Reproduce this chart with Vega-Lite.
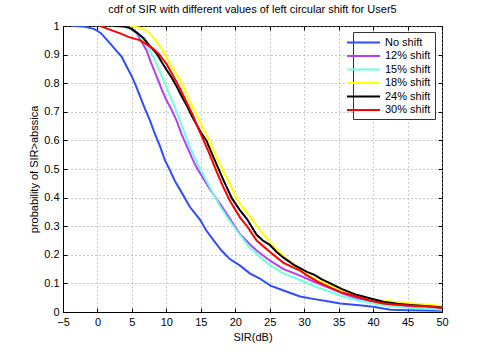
{
  "$schema": "https://vega.github.io/schema/vega-lite/v6.json",
  "width": 379,
  "height": 286,
  "autosize": {"type": "none"},
  "padding": {"left": 63, "top": 26, "right": 45, "bottom": 40},
  "title": {"text": "cdf of SIR with different values of left circular shift for User5", "fontSize": 11, "fontWeight": "normal", "font": "Liberation Sans", "color": "#000", "offset": 5},
  "config": {
    "font": "Liberation Sans",
    "view": {"stroke": "#000", "strokeWidth": 1},
    "axis": {
      "labelFont": "Liberation Sans", "labelFontSize": 11, "labelColor": "#000",
      "titleFont": "Liberation Sans", "titleFontSize": 11, "titleFontWeight": "normal", "titleColor": "#000",
      "domainColor": "#000", "tickColor": "#000", "tickSize": -4,
      "gridColor": "#999", "gridDash": [1, 3], "gridOpacity": 1, "gridWidth": 1
    }
  },
  "data": {"values": [
    {"s": "No shift", "x": -3.5, "p": 1},
    {"s": "No shift", "x": -2, "p": 0.998},
    {"s": "No shift", "x": -0.5, "p": 0.99},
    {"s": "No shift", "x": 0.5, "p": 0.975},
    {"s": "No shift", "x": 1.8, "p": 0.94},
    {"s": "No shift", "x": 2.7, "p": 0.915},
    {"s": "No shift", "x": 3.5, "p": 0.893},
    {"s": "No shift", "x": 4.2, "p": 0.86},
    {"s": "No shift", "x": 5.0, "p": 0.823},
    {"s": "No shift", "x": 5.6, "p": 0.79},
    {"s": "No shift", "x": 6.2, "p": 0.753},
    {"s": "No shift", "x": 6.9, "p": 0.71},
    {"s": "No shift", "x": 7.6, "p": 0.671},
    {"s": "No shift", "x": 8.3, "p": 0.625},
    {"s": "No shift", "x": 9.1, "p": 0.578},
    {"s": "No shift", "x": 9.8, "p": 0.53},
    {"s": "No shift", "x": 10.5, "p": 0.497},
    {"s": "No shift", "x": 11.2, "p": 0.46},
    {"s": "No shift", "x": 12.0, "p": 0.427},
    {"s": "No shift", "x": 13.4, "p": 0.368},
    {"s": "No shift", "x": 14.9, "p": 0.322},
    {"s": "No shift", "x": 15.8, "p": 0.285},
    {"s": "No shift", "x": 16.8, "p": 0.252},
    {"s": "No shift", "x": 18.0, "p": 0.215},
    {"s": "No shift", "x": 19.2, "p": 0.185},
    {"s": "No shift", "x": 20.7, "p": 0.162},
    {"s": "No shift", "x": 22.1, "p": 0.135},
    {"s": "No shift", "x": 23.5, "p": 0.118},
    {"s": "No shift", "x": 25.1, "p": 0.092},
    {"s": "No shift", "x": 27.0, "p": 0.075},
    {"s": "No shift", "x": 29.4, "p": 0.054},
    {"s": "No shift", "x": 31.5, "p": 0.045},
    {"s": "No shift", "x": 33.8, "p": 0.036},
    {"s": "No shift", "x": 35.2, "p": 0.03},
    {"s": "No shift", "x": 38.0, "p": 0.024},
    {"s": "No shift", "x": 40.0, "p": 0.018},
    {"s": "No shift", "x": 42.5, "p": 0.008},
    {"s": "No shift", "x": 45.0, "p": 0.006},
    {"s": "No shift", "x": 50.0, "p": 0.004},

    {"s": "12% shift", "x": 3.5, "p": 1},
    {"s": "12% shift", "x": 4.5, "p": 0.995},
    {"s": "12% shift", "x": 5.7, "p": 0.974},
    {"s": "12% shift", "x": 6.4, "p": 0.945},
    {"s": "12% shift", "x": 7.1, "p": 0.916},
    {"s": "12% shift", "x": 7.8, "p": 0.87},
    {"s": "12% shift", "x": 8.6, "p": 0.823},
    {"s": "12% shift", "x": 9.3, "p": 0.78},
    {"s": "12% shift", "x": 10.0, "p": 0.741},
    {"s": "12% shift", "x": 10.8, "p": 0.705},
    {"s": "12% shift", "x": 11.5, "p": 0.668},
    {"s": "12% shift", "x": 12.2, "p": 0.622},
    {"s": "12% shift", "x": 13.0, "p": 0.578},
    {"s": "12% shift", "x": 13.7, "p": 0.54},
    {"s": "12% shift", "x": 14.4, "p": 0.505},
    {"s": "12% shift", "x": 15.4, "p": 0.465},
    {"s": "12% shift", "x": 16.3, "p": 0.43},
    {"s": "12% shift", "x": 17.3, "p": 0.395},
    {"s": "12% shift", "x": 18.3, "p": 0.36},
    {"s": "12% shift", "x": 19.5, "p": 0.315},
    {"s": "12% shift", "x": 20.7, "p": 0.272},
    {"s": "12% shift", "x": 22.1, "p": 0.237},
    {"s": "12% shift", "x": 23.1, "p": 0.215},
    {"s": "12% shift", "x": 25.0, "p": 0.18},
    {"s": "12% shift", "x": 27.0, "p": 0.15},
    {"s": "12% shift", "x": 29.4, "p": 0.127},
    {"s": "12% shift", "x": 31.5, "p": 0.105},
    {"s": "12% shift", "x": 33.8, "p": 0.083},
    {"s": "12% shift", "x": 35.5, "p": 0.065},
    {"s": "12% shift", "x": 37.6, "p": 0.048},
    {"s": "12% shift", "x": 40.0, "p": 0.037},
    {"s": "12% shift", "x": 41.5, "p": 0.03},
    {"s": "12% shift", "x": 44.0, "p": 0.02},
    {"s": "12% shift", "x": 47.0, "p": 0.013},
    {"s": "12% shift", "x": 50.0, "p": 0.009},

    {"s": "15% shift", "x": 3.5, "p": 1},
    {"s": "15% shift", "x": 5.0, "p": 0.99},
    {"s": "15% shift", "x": 6.2, "p": 0.963},
    {"s": "15% shift", "x": 7.2, "p": 0.93},
    {"s": "15% shift", "x": 8.1, "p": 0.893},
    {"s": "15% shift", "x": 8.9, "p": 0.85},
    {"s": "15% shift", "x": 9.6, "p": 0.811},
    {"s": "15% shift", "x": 10.3, "p": 0.77},
    {"s": "15% shift", "x": 11.0, "p": 0.73},
    {"s": "15% shift", "x": 11.8, "p": 0.68},
    {"s": "15% shift", "x": 12.5, "p": 0.636},
    {"s": "15% shift", "x": 13.2, "p": 0.59},
    {"s": "15% shift", "x": 13.9, "p": 0.55},
    {"s": "15% shift", "x": 14.9, "p": 0.5},
    {"s": "15% shift", "x": 15.6, "p": 0.468},
    {"s": "15% shift", "x": 16.3, "p": 0.437},
    {"s": "15% shift", "x": 17.0, "p": 0.405},
    {"s": "15% shift", "x": 17.8, "p": 0.37},
    {"s": "15% shift", "x": 19.0, "p": 0.325},
    {"s": "15% shift", "x": 20.2, "p": 0.285},
    {"s": "15% shift", "x": 21.0, "p": 0.26},
    {"s": "15% shift", "x": 22.1, "p": 0.225},
    {"s": "15% shift", "x": 23.5, "p": 0.195},
    {"s": "15% shift", "x": 25.0, "p": 0.164},
    {"s": "15% shift", "x": 27.0, "p": 0.135},
    {"s": "15% shift", "x": 29.4, "p": 0.112},
    {"s": "15% shift", "x": 31.5, "p": 0.09},
    {"s": "15% shift", "x": 33.8, "p": 0.071},
    {"s": "15% shift", "x": 35.5, "p": 0.055},
    {"s": "15% shift", "x": 37.6, "p": 0.042},
    {"s": "15% shift", "x": 39.5, "p": 0.032},
    {"s": "15% shift", "x": 41.5, "p": 0.024},
    {"s": "15% shift", "x": 45.0, "p": 0.015},
    {"s": "15% shift", "x": 50.0, "p": 0.009},

    {"s": "18% shift", "x": 4.7, "p": 1},
    {"s": "18% shift", "x": 6.0, "p": 0.995},
    {"s": "18% shift", "x": 7.1, "p": 0.986},
    {"s": "18% shift", "x": 8.1, "p": 0.96},
    {"s": "18% shift", "x": 9.1, "p": 0.928},
    {"s": "18% shift", "x": 9.8, "p": 0.9},
    {"s": "18% shift", "x": 10.5, "p": 0.87},
    {"s": "18% shift", "x": 11.2, "p": 0.84},
    {"s": "18% shift", "x": 12.0, "p": 0.811},
    {"s": "18% shift", "x": 12.7, "p": 0.775},
    {"s": "18% shift", "x": 13.4, "p": 0.735},
    {"s": "18% shift", "x": 14.2, "p": 0.7},
    {"s": "18% shift", "x": 14.9, "p": 0.665},
    {"s": "18% shift", "x": 15.5, "p": 0.635},
    {"s": "18% shift", "x": 16.2, "p": 0.6},
    {"s": "18% shift", "x": 17.3, "p": 0.54},
    {"s": "18% shift", "x": 18.3, "p": 0.49},
    {"s": "18% shift", "x": 19.2, "p": 0.45},
    {"s": "18% shift", "x": 20.2, "p": 0.398},
    {"s": "18% shift", "x": 20.7, "p": 0.378},
    {"s": "18% shift", "x": 22.1, "p": 0.335},
    {"s": "18% shift", "x": 23.5, "p": 0.29},
    {"s": "18% shift", "x": 25.0, "p": 0.245},
    {"s": "18% shift", "x": 27.0, "p": 0.195},
    {"s": "18% shift", "x": 28.9, "p": 0.158},
    {"s": "18% shift", "x": 30.5, "p": 0.13},
    {"s": "18% shift", "x": 32.0, "p": 0.11},
    {"s": "18% shift", "x": 33.8, "p": 0.094},
    {"s": "18% shift", "x": 35.5, "p": 0.075},
    {"s": "18% shift", "x": 37.6, "p": 0.056},
    {"s": "18% shift", "x": 39.5, "p": 0.045},
    {"s": "18% shift", "x": 41.5, "p": 0.04},
    {"s": "18% shift", "x": 43.5, "p": 0.034},
    {"s": "18% shift", "x": 45.8, "p": 0.03},
    {"s": "18% shift", "x": 48.0, "p": 0.025},
    {"s": "18% shift", "x": 50.0, "p": 0.021},

    {"s": "24% shift", "x": 2.3, "p": 1},
    {"s": "24% shift", "x": 4.0, "p": 0.998},
    {"s": "24% shift", "x": 5.0, "p": 0.99},
    {"s": "24% shift", "x": 5.8, "p": 0.975},
    {"s": "24% shift", "x": 6.7, "p": 0.957},
    {"s": "24% shift", "x": 7.6, "p": 0.93},
    {"s": "24% shift", "x": 8.6, "p": 0.904},
    {"s": "24% shift", "x": 9.3, "p": 0.875},
    {"s": "24% shift", "x": 10.0, "p": 0.848},
    {"s": "24% shift", "x": 10.8, "p": 0.818},
    {"s": "24% shift", "x": 11.5, "p": 0.788},
    {"s": "24% shift", "x": 12.2, "p": 0.755},
    {"s": "24% shift", "x": 13.0, "p": 0.72},
    {"s": "24% shift", "x": 13.7, "p": 0.685},
    {"s": "24% shift", "x": 14.4, "p": 0.655},
    {"s": "24% shift", "x": 15.0, "p": 0.628},
    {"s": "24% shift", "x": 15.8, "p": 0.6},
    {"s": "24% shift", "x": 16.5, "p": 0.56},
    {"s": "24% shift", "x": 17.3, "p": 0.515},
    {"s": "24% shift", "x": 18.3, "p": 0.46},
    {"s": "24% shift", "x": 19.5, "p": 0.398},
    {"s": "24% shift", "x": 20.7, "p": 0.355},
    {"s": "24% shift", "x": 21.7, "p": 0.325},
    {"s": "24% shift", "x": 23.1, "p": 0.27},
    {"s": "24% shift", "x": 24.0, "p": 0.25},
    {"s": "24% shift", "x": 25.0, "p": 0.235},
    {"s": "24% shift", "x": 26.0, "p": 0.21},
    {"s": "24% shift", "x": 27.0, "p": 0.19},
    {"s": "24% shift", "x": 28.5, "p": 0.165},
    {"s": "24% shift", "x": 29.4, "p": 0.153},
    {"s": "24% shift", "x": 30.4, "p": 0.14},
    {"s": "24% shift", "x": 31.5, "p": 0.13},
    {"s": "24% shift", "x": 32.5, "p": 0.115},
    {"s": "24% shift", "x": 33.8, "p": 0.1},
    {"s": "24% shift", "x": 35.5, "p": 0.08},
    {"s": "24% shift", "x": 37.6, "p": 0.06},
    {"s": "24% shift", "x": 39.5, "p": 0.048},
    {"s": "24% shift", "x": 41.5, "p": 0.036},
    {"s": "24% shift", "x": 43.5, "p": 0.029},
    {"s": "24% shift", "x": 45.8, "p": 0.024},
    {"s": "24% shift", "x": 48.0, "p": 0.02},
    {"s": "24% shift", "x": 50.0, "p": 0.016},

    {"s": "30% shift", "x": 0.4, "p": 1},
    {"s": "30% shift", "x": 1.5, "p": 0.99},
    {"s": "30% shift", "x": 3.3, "p": 0.974},
    {"s": "30% shift", "x": 4.5, "p": 0.962},
    {"s": "30% shift", "x": 6.2, "p": 0.95},
    {"s": "30% shift", "x": 7.2, "p": 0.935},
    {"s": "30% shift", "x": 8.1, "p": 0.92},
    {"s": "30% shift", "x": 9.0, "p": 0.9},
    {"s": "30% shift", "x": 10.0, "p": 0.868},
    {"s": "30% shift", "x": 11.0, "p": 0.825},
    {"s": "30% shift", "x": 12.0, "p": 0.78},
    {"s": "30% shift", "x": 13.0, "p": 0.73},
    {"s": "30% shift", "x": 13.9, "p": 0.685},
    {"s": "30% shift", "x": 14.4, "p": 0.655},
    {"s": "30% shift", "x": 15.4, "p": 0.6},
    {"s": "30% shift", "x": 16.3, "p": 0.55},
    {"s": "30% shift", "x": 17.3, "p": 0.49},
    {"s": "30% shift", "x": 18.3, "p": 0.435},
    {"s": "30% shift", "x": 19.2, "p": 0.39},
    {"s": "30% shift", "x": 20.7, "p": 0.33},
    {"s": "30% shift", "x": 21.7, "p": 0.3},
    {"s": "30% shift", "x": 23.1, "p": 0.25},
    {"s": "30% shift", "x": 25.0, "p": 0.211},
    {"s": "30% shift", "x": 27.0, "p": 0.172},
    {"s": "30% shift", "x": 29.4, "p": 0.145},
    {"s": "30% shift", "x": 30.4, "p": 0.128},
    {"s": "30% shift", "x": 32.0, "p": 0.105},
    {"s": "30% shift", "x": 33.8, "p": 0.085},
    {"s": "30% shift", "x": 35.5, "p": 0.068},
    {"s": "30% shift", "x": 37.6, "p": 0.054},
    {"s": "30% shift", "x": 39.5, "p": 0.04},
    {"s": "30% shift", "x": 41.5, "p": 0.03},
    {"s": "30% shift", "x": 43.5, "p": 0.025},
    {"s": "30% shift", "x": 45.8, "p": 0.022},
    {"s": "30% shift", "x": 48.0, "p": 0.019},
    {"s": "30% shift", "x": 50.0, "p": 0.014}
  ]},
  "layer": [
    {
      "mark": {"type": "line", "strokeWidth": 2, "clip": true},
      "encoding": {
        "x": {"field": "x", "type": "quantitative", "scale": {"domain": [-5, 50], "nice": false, "zero": false},
              "axis": {"orient": "bottom", "title": "SIR(dB)", "values": [-5, 0, 5, 10, 15, 20, 25, 30, 35, 40, 45, 50], "grid": true, "labelPadding": 8, "titlePadding": 4, "labelFlush": false}},
        "y": {"field": "p", "type": "quantitative", "scale": {"domain": [0, 1], "nice": false},
              "axis": {"orient": "left", "title": "probability of SIR>abssica", "values": [0, 0.1, 0.2, 0.3, 0.4, 0.5, 0.6, 0.7, 0.8, 0.9, 1], "labelExpr": "format(datum.value, '~g')", "grid": true, "labelPadding": 8, "titlePadding": 4, "labelFlush": false}},
        "color": {"field": "s", "type": "nominal",
                  "scale": {"domain": ["No shift", "12% shift", "15% shift", "18% shift", "24% shift", "30% shift"],
                            "range": ["#2f4dff", "#b23cff", "#6fffdc", "#ffff00", "#000000", "#ff0000"]},
                  "legend": {"title": null, "orient": "none", "legendX": 290, "legendY": 6,
                             "symbolType": "M-3,0H3", "symbolSize": 121, "symbolStrokeWidth": 2,
                             "labelFont": "Liberation Sans", "labelFontSize": 11, "labelColor": "#000",
                             "strokeColor": "#333", "fillColor": "#fff", "padding": 4, "rowPadding": 1.5, "labelOffset": 15}}
      }
    },
    {
      "mark": {"type": "line", "opacity": 0},
      "encoding": {
        "x": {"field": "x", "type": "quantitative", "scale": {"domain": [-5, 50], "nice": false, "zero": false},
              "axis": {"orient": "top", "title": null, "labels": false, "grid": false, "domain": false, "values": [-5, 0, 5, 10, 15, 20, 25, 30, 35, 40, 45, 50]}},
        "y": {"field": "p", "type": "quantitative", "scale": {"domain": [0, 1], "nice": false},
              "axis": {"orient": "right", "title": null, "labels": false, "grid": false, "domain": false, "values": [0, 0.1, 0.2, 0.3, 0.4, 0.5, 0.6, 0.7, 0.8, 0.9, 1]}},
        "detail": {"field": "s", "type": "nominal"}
      }
    }
  ],
  "resolve": {"axis": {"x": "independent", "y": "independent"}}
}
